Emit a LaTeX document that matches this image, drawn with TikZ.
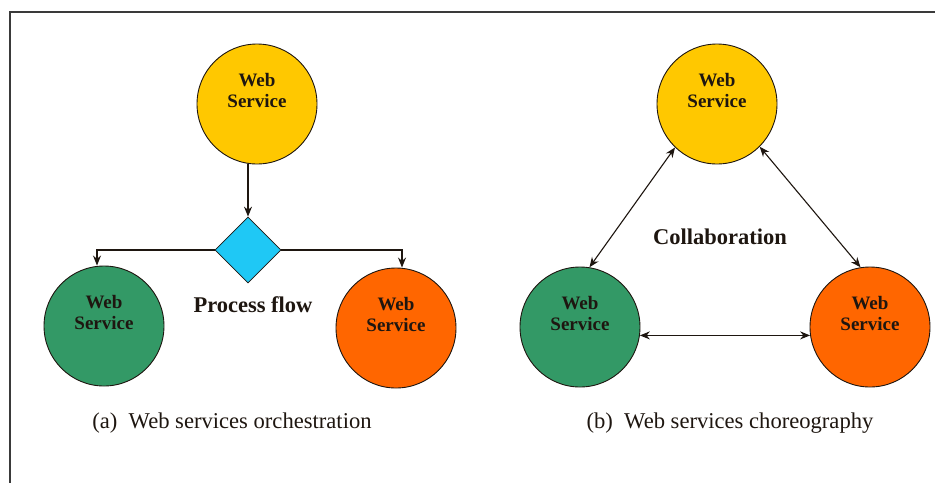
\documentclass[tikz,border=0pt]{standalone}
\usepackage{fontspec}
\setmainfont{Liberation Serif}
\usetikzlibrary{arrows.meta,shapes.geometric}
\definecolor{wsyellow}{HTML}{FFC800}
\definecolor{wsgreen}{HTML}{339966}
\definecolor{wsorange}{HTML}{FF6600}
\definecolor{wscyan}{HTML}{1FC8F5}
\definecolor{wsink}{HTML}{1E1610}
\definecolor{frame}{HTML}{3A3A3A}
\tikzset{
  ws/.style={circle, draw=wsink, line width=0.9pt, minimum size=120pt, inner sep=0pt},
  wstext/.style={align=center, text=wsink, font=\fontsize{19}{21}\selectfont\bfseries},
  bigbold/.style={text=wsink, font=\fontsize{22.5}{26}\selectfont\bfseries},
  caption/.style={text=wsink, font=\fontsize{22.6}{26}\selectfont},
  conn/.style={draw=wsink, line width=1.2pt, -{Stealth[length=10pt,width=8pt]}},
  biconn/.style={draw=wsink, line width=1.1pt, {Stealth[length=10pt,width=8pt]}-{Stealth[length=10pt,width=8pt]}},
  gate/.style={diamond, draw=wsink, line width=0.8pt, fill=wscyan, minimum width=66pt, minimum height=66pt, inner sep=0pt}
}
\begin{document}
\begin{tikzpicture}[x=1pt,y=-1pt]
\useasboundingbox (0,0) rectangle (935,483);
\fill[white] (0,0) rectangle (935,483);
% frame
\coordinate (fTL) at (10,12);
\coordinate (fTR) at (935,12);
\coordinate (fBL) at (10,483);
\draw[frame, line width=1.5pt] (fTR) -- (fTL) -- (fBL);

% (a) orchestration
\node[ws, fill=wsyellow] (ya) at (257,104) {};
\node[wstext] (yaT) at ([yshift=14pt]ya.center) {Web\\Service};
\node[ws, fill=wsgreen] (ga) at (104,326) {};
\node[wstext] (gaT) at ([yshift=14pt]ga.center) {Web\\Service};
\node[ws, fill=wsorange] (oa) at (396,328) {};
\node[wstext] (oaT) at ([yshift=14pt]oa.center) {Web\\Service};
\node[gate] (dia) at (248,250) {};
\draw[conn] (ya.south -| dia.north) -- (dia.north);
\draw[conn] (dia.west) -| ([xshift=-7pt]ga.north);
\draw[conn] (dia.east) -| ([xshift=6pt]oa.north);
\node[bigbold] (pf) at (253,305) {Process flow};
\node[caption] (capA) at (232,423) {(a)\enspace Web services orchestration};

% (b) choreography
\node[ws, fill=wsyellow] (yb) at (717,104) {};
\node[wstext] (ybT) at ([yshift=14pt]yb.center) {Web\\Service};
\node[ws, fill=wsgreen] (gb) at (580,327) {};
\node[wstext] (gbT) at ([yshift=14pt]gb.center) {Web\\Service};
\node[ws, fill=wsorange] (ob) at (870,327) {};
\node[wstext] (obT) at ([yshift=14pt]ob.center) {Web\\Service};
\draw[biconn] (gb.81) -- (yb.226);
\draw[biconn] (yb.315) -- (ob.99);
\draw[biconn] (gb.-8.6) -- (ob.188.6);
\node[bigbold] (col) at (720,237) {Collaboration};
\node[caption] (capB) at (730,423) {(b)\enspace Web services choreography};
\end{tikzpicture}
\end{document}
